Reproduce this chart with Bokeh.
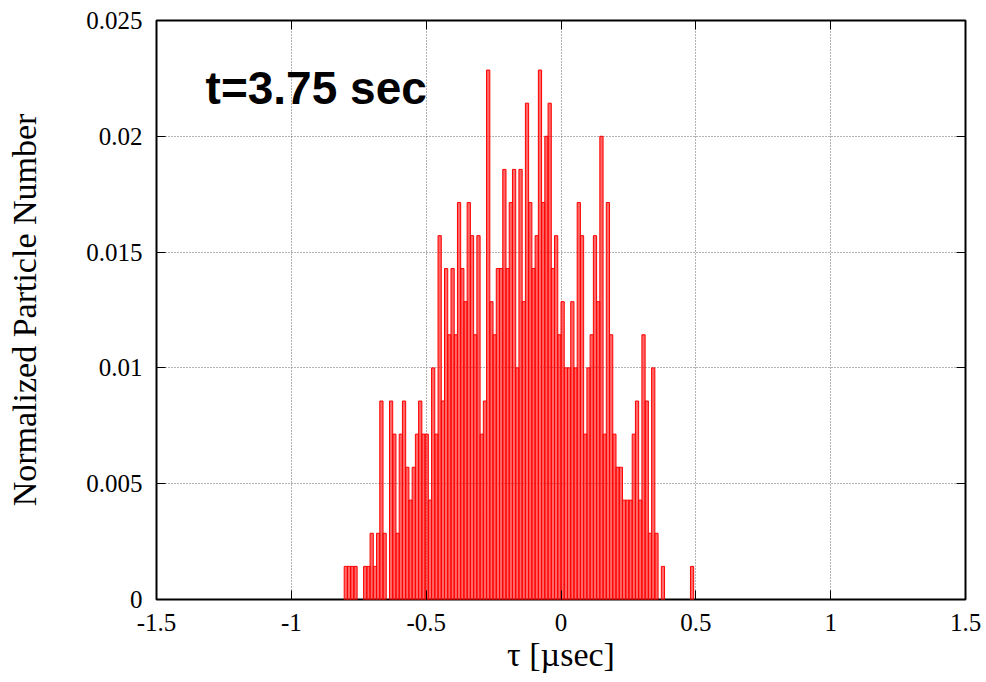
from bokeh.plotting import figure
from bokeh.models import Range1d, FixedTicker, LinearAxis, Label, ColumnDataSource
from bokeh.embed import file_html
from bokeh.resources import INLINE

# bin centres (microseconds) of the non-empty histogram bins
tau_us = [
    -0.798, -0.786, -0.774, -0.762, -0.726, -0.714, -0.702, -0.690, -0.678, -0.666,
    -0.654, -0.630, -0.618, -0.606, -0.594, -0.582, -0.570, -0.558, -0.546, -0.534,
    -0.522, -0.510, -0.498, -0.486, -0.474, -0.462, -0.450, -0.438, -0.426, -0.414,
    -0.402, -0.390, -0.378, -0.366, -0.354, -0.342, -0.330, -0.318, -0.306, -0.294,
    -0.282, -0.270, -0.258, -0.246, -0.234, -0.222, -0.210, -0.198, -0.186, -0.174,
    -0.162, -0.150, -0.138, -0.126, -0.114, -0.102, -0.090, -0.078, -0.066, -0.054,
    -0.042, -0.030, -0.018, -0.006, 0.006, 0.018, 0.030, 0.042, 0.054, 0.066,
    0.078, 0.090, 0.102, 0.114, 0.126, 0.138, 0.150, 0.162, 0.174, 0.186,
    0.198, 0.210, 0.222, 0.234, 0.246, 0.258, 0.270, 0.282, 0.294, 0.306,
    0.318, 0.330, 0.342, 0.354, 0.378, 0.486,
]

# normalized particle number in each bin
particles = [
    0.00143, 0.00143, 0.00143, 0.00143, 0.00143, 0.00143, 0.00286, 0.00143, 0.00286, 0.00857,
    0.00286, 0.00857, 0.00714, 0.00286, 0.00714, 0.00857, 0.00571, 0.00429, 0.00571, 0.00714,
    0.00857, 0.00714, 0.00714, 0.00429, 0.01000, 0.00714, 0.01571, 0.00857, 0.01429, 0.01143,
    0.01429, 0.01143, 0.01714, 0.01429, 0.01286, 0.01714, 0.01571, 0.01143, 0.01571, 0.00714,
    0.00857, 0.02286, 0.01286, 0.01143, 0.01429, 0.01429, 0.01857, 0.01429, 0.01714, 0.01857,
    0.01000, 0.01857, 0.01286, 0.02143, 0.01714, 0.01429, 0.01571, 0.02286, 0.01714, 0.02000,
    0.02143, 0.01429, 0.01571, 0.01143, 0.01286, 0.01000, 0.01000, 0.01286, 0.01000, 0.01714,
    0.01571, 0.00714, 0.01000, 0.01143, 0.01571, 0.01286, 0.02000, 0.00714, 0.01714, 0.01143,
    0.00714, 0.00571, 0.00571, 0.00429, 0.00429, 0.00429, 0.00714, 0.00857, 0.00429, 0.01143,
    0.00857, 0.00286, 0.01000, 0.00286, 0.00143, 0.00143,
]

bin_width = 0.012

x_ticks = [-1.5, -1.0, -0.5, 0.0, 0.5, 1.0, 1.5]
x_tick_labels = ["-1.5", "-1", "-0.5", "0", "0.5", "1", "1.5"]
y_ticks = [0.0, 0.005, 0.01, 0.015, 0.02, 0.025]
y_tick_labels = ["0", "0.005", "0.01", "0.015", "0.02", "0.025"]

title_text = "t=3.75 sec"
x_label = "\u03c4 [\u00b5sec]"
y_label = "Normalized Particle Number"

SERIF = "Liberation Serif"
TICK_SIZE = "25px"
LABEL_SIZE = "34px"

p = figure(width=986, height=682, output_backend="svg", toolbar_location=None,
           x_range=Range1d(-1.5, 1.5), y_range=Range1d(0, 0.025))
p.min_border_left = 156
p.min_border_right = 21
p.min_border_top = 20
p.min_border_bottom = 83
p.background_fill_color = "white"
p.border_fill_color = "white"
p.outline_line_color = "black"
p.outline_line_width = 2

src = ColumnDataSource(data=dict(tau=tau_us, val=particles))
p.vbar(x="tau", top="val", bottom=0, width=bin_width, source=src,
       fill_color="#ff0000", fill_alpha=0.6, line_color="#ff0000", line_width=1)

xt = FixedTicker(ticks=x_ticks)
yt = FixedTicker(ticks=y_ticks)

for ax in p.xaxis:
    ax.ticker = xt
    ax.major_label_overrides = {t: l for t, l in zip(x_ticks, x_tick_labels)}
for ax in p.yaxis:
    ax.ticker = yt
    ax.major_label_overrides = {t: l for t, l in zip(y_ticks, y_tick_labels)}

for ax in list(p.xaxis) + list(p.yaxis):
    ax.major_tick_in = 9
    ax.major_tick_out = 0
    ax.minor_tick_line_color = None
    ax.major_tick_line_color = "black"
    ax.major_tick_line_width = 1
    ax.axis_line_color = None
    ax.major_label_text_font = SERIF
    ax.major_label_text_font_size = TICK_SIZE
    ax.major_label_text_color = "black"
    ax.major_label_standoff = 14
    ax.axis_label_text_font = SERIF
    ax.axis_label_text_font_size = LABEL_SIZE
    ax.axis_label_text_font_style = "normal"
    ax.axis_label_text_color = "black"

p.xaxis.axis_label = x_label
p.xaxis.axis_label_standoff = 2
p.yaxis.axis_label = y_label
p.yaxis.axis_label_standoff = 40

# mirrored tick marks on top and right
top_ax = LinearAxis(ticker=xt, major_label_overrides={t: "" for t in x_ticks})
right_ax = LinearAxis(ticker=yt, major_label_overrides={t: "" for t in y_ticks})
for ax in (top_ax, right_ax):
    ax.major_tick_in = 9
    ax.major_tick_out = 0
    ax.minor_tick_line_color = None
    ax.major_tick_line_color = "black"
    ax.axis_line_color = None
    ax.major_label_standoff = 0
    ax.major_label_text_font_size = "1px"
p.add_layout(top_ax, "above")
p.add_layout(right_ax, "right")

for g, t in ((p.xgrid, xt), (p.ygrid, yt)):
    g.ticker = t
    g.grid_line_color = "#666666"
    g.grid_line_dash = "1 2"
    g.grid_line_width = 1

p.add_layout(Label(x=-1.318, y=0.0221, text=title_text, text_font="Liberation Sans",
                   text_font_style="bold", text_font_size="46px", text_color="black",
                   text_baseline="alphabetic"))

open("out.html", "w").write(file_html(p, INLINE))
